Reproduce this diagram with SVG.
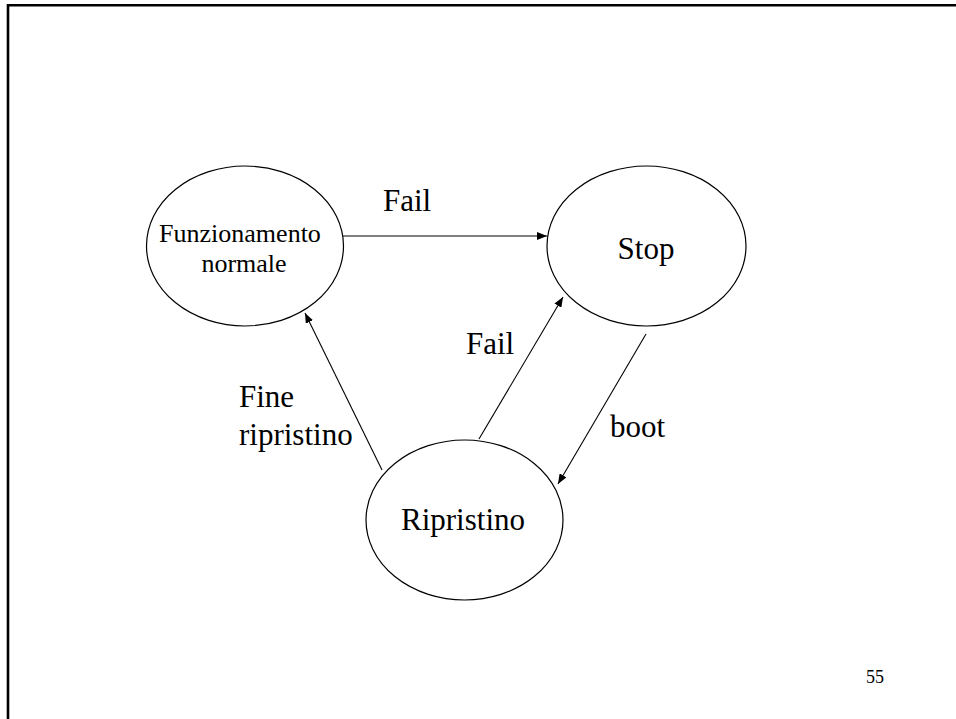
<svg xmlns="http://www.w3.org/2000/svg" width="956" height="719" viewBox="0 0 956 719">
<style>
.node ellipse{fill:#fff;stroke:#000;stroke-width:1.2}
.t{font-family:"Liberation Serif","Times New Roman",serif;fill:#000}
.big{font-size:31px}
.mid{font-size:26px}
.edge{stroke:#000;stroke-width:1.1;fill:none;marker-end:url(#ah)}
</style>
<defs>
<marker id="ah" markerUnits="userSpaceOnUse" markerWidth="10" markerHeight="8" refX="10" refY="4" orient="auto">
<path d="M0,0 L10,4 L0,8 z" fill="#000"/>
</marker>
</defs>
<rect width="956" height="719" fill="#fff"/>
<path d="M8,719 V5.3 H956" fill="none" stroke="#000" stroke-width="2.6"/>
<g id="funzionamento" class="node">
<ellipse cx="245" cy="246" rx="98.5" ry="80"/>
<text class="t mid" x="240" y="242" text-anchor="middle">Funzionamento</text>
<text class="t mid" x="244" y="272" text-anchor="middle">normale</text>
</g>
<g id="stop" class="node">
<ellipse cx="646.5" cy="246" rx="99.5" ry="80"/>
<text class="t big" x="646" y="259" text-anchor="middle">Stop</text>
</g>
<g id="ripristino" class="node">
<ellipse cx="464.5" cy="520" rx="98.5" ry="80"/>
<text class="t big" x="463" y="530" text-anchor="middle">Ripristino</text>
</g>
<g id="connectors">
<line class="edge" x1="343" y1="236" x2="547" y2="236"/>
<line class="edge" x1="382" y1="470" x2="305" y2="313"/>
<line class="edge" x1="479" y1="439" x2="563" y2="297"/>
<line class="edge" x1="646" y1="334" x2="558" y2="484"/>
<text class="t big" x="383" y="211">Fail</text>
<text class="t big" x="466" y="354">Fail</text>
<text class="t big" x="239" y="407">Fine</text>
<text class="t big" x="239" y="445">ripristino</text>
<text class="t big" x="610" y="437">boot</text>
</g>
<text class="t" x="866" y="683" font-size="18">55</text>
</svg>
